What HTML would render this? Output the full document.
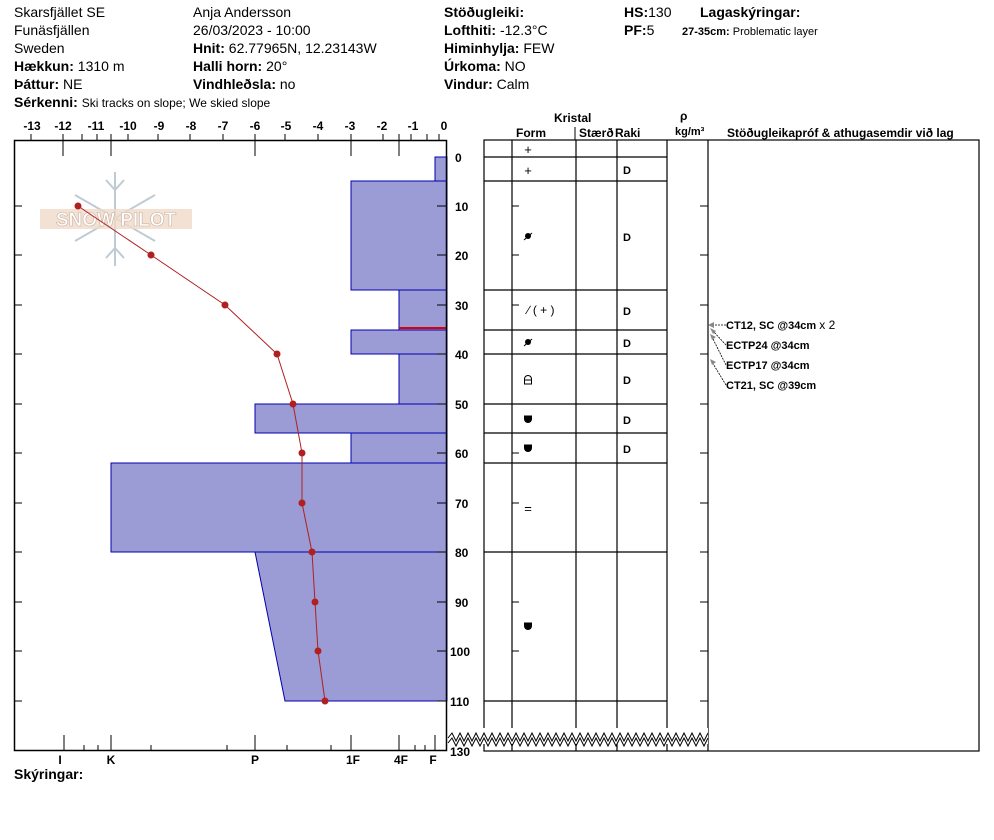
<!DOCTYPE html>
<html><head><meta charset="utf-8"><style>
body{margin:0;background:#fff;}
svg{display:block;font-family:"Liberation Sans",Arial,sans-serif;}
</style></head><body>
<svg width="994" height="840" viewBox="0 0 994 840" xmlns="http://www.w3.org/2000/svg">
<g font-size="14" fill="#000">
<text x="14" y="17">Skarsfjället SE</text>
<text x="14" y="35">Funäsfjällen</text>
<text x="14" y="53">Sweden</text>
<text x="14" y="71"><tspan font-weight="bold">Hækkun:</tspan> 1310 m</text>
<text x="14" y="89"><tspan font-weight="bold">Þáttur:</tspan> NE</text>
<text x="14" y="107"><tspan font-weight="bold">Sérkenni:</tspan> <tspan font-size="12">Ski tracks on slope; We skied slope</tspan></text>
<text x="193" y="17">Anja Andersson</text>
<text x="193" y="35">26/03/2023 - 10:00</text>
<text x="193" y="53"><tspan font-weight="bold">Hnit:</tspan> 62.77965N, 12.23143W</text>
<text x="193" y="71"><tspan font-weight="bold">Halli horn:</tspan> 20°</text>
<text x="193" y="89"><tspan font-weight="bold">Vindhleðsla:</tspan> no</text>
<text x="444" y="17" font-weight="bold">Stöðugleiki:</text>
<text x="444" y="35"><tspan font-weight="bold">Lofthiti:</tspan> -12.3°C</text>
<text x="444" y="53"><tspan font-weight="bold">Himinhylja:</tspan> FEW</text>
<text x="444" y="71"><tspan font-weight="bold">Úrkoma:</tspan> NO</text>
<text x="444" y="89"><tspan font-weight="bold">Vindur:</tspan> Calm</text>
<text x="624" y="17"><tspan font-weight="bold">HS:</tspan>130</text>
<text x="624" y="35"><tspan font-weight="bold">PF:</tspan>5</text>
<text x="700" y="17" font-weight="bold">Lagaskýringar:</text>
<text x="682" y="35" font-size="11"><tspan font-weight="bold">27-35cm:</tspan> Problematic layer</text>
<text x="14" y="779" font-weight="bold">Skýringar:</text>
</g>
<!-- snow pilot logo -->
<g stroke="#b9c6d0" stroke-width="2" fill="none" opacity="0.9">
<line x1="115" y1="172" x2="115" y2="266"/><line x1="75" y1="195" x2="155" y2="241"/><line x1="75" y1="241" x2="155" y2="195"/>
<polyline points="106,180 115,190 124,180"/><polyline points="106,258 115,248 124,258"/>
</g>
<rect x="40" y="209" width="152" height="20" fill="#f0d9c8" opacity="0.8"/>
<text x="116" y="226" font-size="19" font-weight="bold" fill="#fff" stroke="#c8b0a0" stroke-width="0.6" text-anchor="middle">SNOW PILOT</text>
<!-- temp axis -->
<g font-size="12" font-weight="bold" text-anchor="middle">
<text x="32" y="130">-13</text><text x="63" y="130">-12</text><text x="96" y="130">-11</text><text x="128" y="130">-10</text><text x="159" y="130">-9</text><text x="191" y="130">-8</text><text x="223" y="130">-7</text><text x="255" y="130">-6</text><text x="286" y="130">-5</text><text x="318" y="130">-4</text><text x="350" y="130">-3</text><text x="382" y="130">-2</text><text x="413" y="130">-1</text><text x="444" y="130">0</text>
</g>
<g stroke="#000" stroke-width="1">
<line x1="31" y1="134" x2="31" y2="140"/><line x1="63" y1="134" x2="63" y2="156"/><line x1="97" y1="134" x2="97" y2="140"/><line x1="128" y1="134" x2="128" y2="140"/><line x1="158" y1="134" x2="158" y2="140"/><line x1="190" y1="134" x2="190" y2="140"/><line x1="223" y1="134" x2="223" y2="140"/><line x1="255" y1="134" x2="255" y2="156"/><line x1="285" y1="134" x2="285" y2="140"/><line x1="318" y1="134" x2="318" y2="140"/><line x1="351" y1="134" x2="351" y2="156"/><line x1="383" y1="134" x2="383" y2="140"/><line x1="399" y1="134" x2="399" y2="156"/><line x1="411" y1="134" x2="411" y2="140"/><line x1="427" y1="134" x2="427" y2="140"/><line x1="111" y1="134" x2="111" y2="156"/><line x1="82" y1="134" x2="82" y2="140"/><line x1="439" y1="134" x2="439" y2="140"/>
</g>
<!-- bars -->
<g fill="#9b9bd5" stroke="#0000b0" stroke-width="1">
<rect x="435" y="157" width="12" height="24"/>
<rect x="351" y="181" width="96" height="109"/>
<rect x="399" y="290" width="48" height="40"/>
<rect x="351" y="330" width="96" height="24"/>
<rect x="399" y="354" width="48" height="50"/>
<rect x="255" y="404" width="192" height="29"/>
<rect x="351" y="433" width="96" height="30"/>
<rect x="111" y="463" width="336" height="89"/>
<polygon points="255,552 447,552 447,701 285,701"/>
</g>
<line x1="399" y1="328" x2="447" y2="328" stroke="#d00" stroke-width="2"/>
<!-- frame -->
<rect x="14.5" y="140.5" width="432" height="610" fill="none" stroke="#000" stroke-width="1.5"/>
<g stroke="#000">
<line x1="14" y1="206" x2="22" y2="206"/><line x1="14" y1="255" x2="22" y2="255"/><line x1="14" y1="305" x2="22" y2="305"/><line x1="14" y1="354" x2="22" y2="354"/><line x1="14" y1="404" x2="22" y2="404"/><line x1="14" y1="453" x2="22" y2="453"/><line x1="14" y1="503" x2="22" y2="503"/><line x1="14" y1="552" x2="22" y2="552"/><line x1="14" y1="602" x2="22" y2="602"/><line x1="14" y1="651" x2="22" y2="651"/><line x1="14" y1="701" x2="22" y2="701"/>
<line x1="437" y1="206" x2="447" y2="206"/><line x1="437" y1="255" x2="447" y2="255"/><line x1="437" y1="305" x2="447" y2="305"/><line x1="437" y1="354" x2="447" y2="354"/><line x1="437" y1="404" x2="447" y2="404"/><line x1="437" y1="453" x2="447" y2="453"/><line x1="437" y1="503" x2="447" y2="503"/><line x1="437" y1="552" x2="447" y2="552"/><line x1="437" y1="602" x2="447" y2="602"/><line x1="437" y1="651" x2="447" y2="651"/><line x1="437" y1="701" x2="447" y2="701"/>
<line x1="64" y1="735" x2="64" y2="751"/><line x1="111" y1="735" x2="111" y2="751"/><line x1="255" y1="735" x2="255" y2="751"/><line x1="351" y1="735" x2="351" y2="751"/><line x1="399" y1="735" x2="399" y2="751"/><line x1="435" y1="735" x2="435" y2="751"/>
<line x1="84" y1="745" x2="84" y2="751"/><line x1="98" y1="745" x2="98" y2="751"/><line x1="151" y1="745" x2="151" y2="751"/><line x1="227" y1="745" x2="227" y2="751"/><line x1="287" y1="745" x2="287" y2="751"/><line x1="331" y1="745" x2="331" y2="751"/><line x1="415" y1="745" x2="415" y2="751"/><line x1="425" y1="745" x2="425" y2="751"/>
</g>
<g font-size="12" font-weight="bold" text-anchor="middle">
<text x="60" y="764">I</text><text x="111" y="764">K</text><text x="255" y="764">P</text><text x="353" y="764">1F</text><text x="401" y="764">4F</text><text x="433" y="764">F</text>
</g>
<!-- depth labels -->
<g font-size="12" font-weight="bold">
<text x="455" y="162">0</text><text x="455" y="211">10</text><text x="455" y="260">20</text><text x="455" y="310">30</text><text x="455" y="359">40</text><text x="455" y="409">50</text><text x="455" y="458">60</text><text x="455" y="508">70</text><text x="455" y="557">80</text><text x="455" y="607">90</text><text x="450" y="656">100</text><text x="450" y="706">110</text><text x="450" y="756">130</text>
</g>
<!-- temperature profile -->
<polyline points="78,206 151,255 225,305 277,354 293,404 302,453 302,503 312,552 315,602 318,651 325,701" fill="none" stroke="#b02020" stroke-width="1"/>
<g fill="#b02020">
<circle cx="78" cy="206" r="3.5"/><circle cx="151" cy="255" r="3.5"/><circle cx="225" cy="305" r="3.5"/><circle cx="277" cy="354" r="3.5"/><circle cx="293" cy="404" r="3.5"/><circle cx="302" cy="453" r="3.5"/><circle cx="302" cy="503" r="3.5"/><circle cx="312" cy="552" r="3.5"/><circle cx="315" cy="602" r="3.5"/><circle cx="318" cy="651" r="3.5"/><circle cx="325" cy="701" r="3.5"/>
</g>
<!-- table header -->
<g font-size="12" font-weight="bold">
<text x="554" y="122">Kristal</text>
<text x="516" y="137">Form</text>
<text x="579" y="137">Stærð</text><text x="615" y="137">Raki</text>
<text x="680" y="120">ρ</text>
<text x="675" y="135" font-size="11">kg/m³</text>
<text x="727" y="137">Stöðugleikapróf &amp; athugasemdir við lag</text>
</g>
<line x1="575" y1="127" x2="575" y2="140" stroke="#000"/>
<!-- table -->
<g stroke="#000" stroke-width="1.2" fill="none">
<rect x="484" y="140" width="495" height="611"/>
<line x1="512" y1="140" x2="512" y2="751"/><line x1="576" y1="140" x2="576" y2="751"/><line x1="617" y1="140" x2="617" y2="751"/><line x1="667" y1="140" x2="667" y2="751"/><line x1="708" y1="140" x2="708" y2="751"/>
<line x1="484" y1="157" x2="667" y2="157"/><line x1="484" y1="181" x2="667" y2="181"/><line x1="484" y1="290" x2="667" y2="290"/><line x1="484" y1="330" x2="667" y2="330"/><line x1="484" y1="354" x2="667" y2="354"/><line x1="484" y1="404" x2="667" y2="404"/><line x1="484" y1="433" x2="667" y2="433"/><line x1="484" y1="463" x2="667" y2="463"/><line x1="484" y1="552" x2="667" y2="552"/><line x1="484" y1="701" x2="667" y2="701"/>
</g>
<g stroke="#000">
<line x1="512" y1="206" x2="519" y2="206"/><line x1="512" y1="255" x2="519" y2="255"/><line x1="512" y1="305" x2="519" y2="305"/><line x1="512" y1="354" x2="519" y2="354"/><line x1="512" y1="404" x2="519" y2="404"/><line x1="512" y1="453" x2="519" y2="453"/><line x1="512" y1="503" x2="519" y2="503"/><line x1="512" y1="552" x2="519" y2="552"/><line x1="512" y1="602" x2="519" y2="602"/><line x1="512" y1="651" x2="519" y2="651"/>
<line x1="700" y1="206" x2="708" y2="206"/><line x1="700" y1="255" x2="708" y2="255"/><line x1="700" y1="305" x2="708" y2="305"/><line x1="700" y1="354" x2="708" y2="354"/><line x1="700" y1="404" x2="708" y2="404"/><line x1="700" y1="453" x2="708" y2="453"/><line x1="700" y1="503" x2="708" y2="503"/><line x1="700" y1="552" x2="708" y2="552"/><line x1="700" y1="602" x2="708" y2="602"/><line x1="700" y1="651" x2="708" y2="651"/><line x1="700" y1="701" x2="708" y2="701"/>
</g>
<!-- zigzag -->
<rect x="448" y="728" width="260" height="16" fill="#fff"/>
<polyline points="448,738 452,733 456,741 460,733 464,741 468,733 472,741 476,733 480,741 484,733 488,741 492,733 496,741 500,733 504,741 508,733 512,741 516,733 520,741 524,733 528,741 532,733 536,741 540,733 544,741 548,733 552,741 556,733 560,741 564,733 568,741 572,733 576,741 580,733 584,741 588,733 592,741 596,733 600,741 604,733 608,741 612,733 616,741 620,733 624,741 628,733 632,741 636,733 640,741 644,733 648,741 652,733 656,741 660,733 664,741 668,733 672,741 676,733 680,741 684,733 688,741 692,733 696,741 700,733 704,741 708,733" fill="none" stroke="#000"/>
<polyline points="448,743 452,738 456,746 460,738 464,746 468,738 472,746 476,738 480,746 484,738 488,746 492,738 496,746 500,738 504,746 508,738 512,746 516,738 520,746 524,738 528,746 532,738 536,746 540,738 544,746 548,738 552,746 556,738 560,746 564,738 568,746 572,738 576,746 580,738 584,746 588,738 592,746 596,738 600,746 604,738 608,746 612,738 616,746 620,738 624,746 628,738 632,746 636,738 640,746 644,738 648,746 652,738 656,746 660,738 664,746 668,738 672,746 676,738 680,746 684,738 688,746 692,738 696,746 700,738 704,746 708,738" fill="none" stroke="#000"/>
<!-- crystal forms -->
<g font-size="13" text-anchor="middle">
<text x="528" y="154">+</text><text x="528" y="175">+</text>
<text x="541" y="314" font-size="12">∕ ( + )</text>
<text x="528" y="513">=</text>
</g>
<g fill="#000">
<circle cx="528" cy="236" r="3"/><circle cx="528" cy="342" r="3"/>
<path d="M524,514" />
</g>
<g stroke="#000" fill="none">
<line x1="524" y1="240" x2="532" y2="233"/><line x1="524" y1="346" x2="532" y2="339"/>
<path d="M524.5,384 v-5 a3.5,3.5 0 0 1 7,0 v5 z M524.5,380 h7"/>
<path d="M524.5,416 h7 v3 a3.5,3.5 0 0 1 -7,0 z" fill="#000"/>
<path d="M524.5,445 h7 v3 a3.5,3.5 0 0 1 -7,0 z" fill="#000"/>
<path d="M524.5,623 h7 v3 a3.5,3.5 0 0 1 -7,0 z" fill="#000"/>
</g>
<g font-size="11" font-weight="bold">
<text x="623" y="174">D</text><text x="623" y="241">D</text><text x="623" y="315">D</text><text x="623" y="347">D</text><text x="623" y="384">D</text><text x="623" y="424">D</text><text x="623" y="453">D</text>
</g>
<!-- tests -->
<g stroke="#000" stroke-width="0.8" stroke-dasharray="2,1" fill="none">
<line x1="726" y1="325" x2="712" y2="325"/>
<line x1="726" y1="345" x2="712" y2="330"/>
<line x1="726" y1="365" x2="712" y2="337"/>
<line x1="726" y1="385" x2="712" y2="362"/>
</g>
<g fill="#888">
<polygon points="708,325 714,322 714,328"/><polygon points="710,328 716,331 713,334"/><polygon points="710,334 716,337 712,340"/><polygon points="710,359 716,362 712,365"/>
</g>
<g font-size="11" font-weight="bold">
<text x="726" y="329">CT12, SC @34cm <tspan font-weight="normal" font-size="12">  x 2</tspan></text>
<text x="726" y="349">ECTP24 @34cm</text>
<text x="726" y="369">ECTP17 @34cm</text>
<text x="726" y="389">CT21, SC @39cm</text>
</g>
</svg>
</body></html>
